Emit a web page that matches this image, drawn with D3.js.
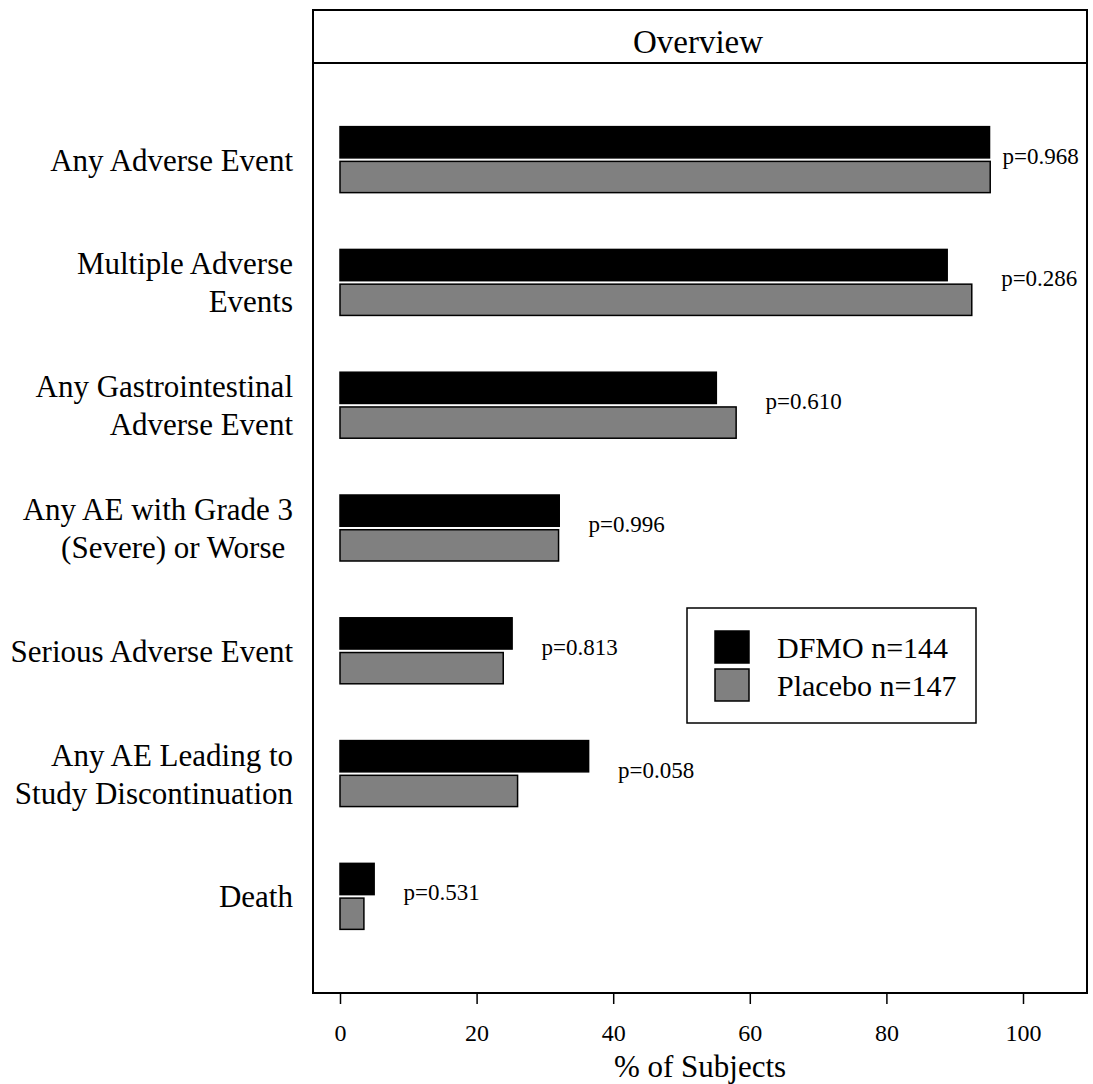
<!DOCTYPE html>
<html>
<head>
<meta charset="utf-8">
<script src="https://cdn.jsdelivr.net/npm/d3@7"></script>
<style>
  body { margin: 0; background: #fff; }
  svg text { font-family: "Liberation Serif", "Times New Roman", serif; fill: #000; }
</style>
</head>
<body>
<div id="chart"></div>
<script>
// Data
var categories = [
  "Any Adverse Event",
  "Multiple Adverse\nEvents",
  "Any Gastrointestinal\nAdverse Event",
  "Any AE with Grade 3\n(Severe) or Worse\u00a0",
  "Serious Adverse Event",
  "Any AE Leading to\nStudy Discontinuation",
  "Death"
];
var dfmoValues    = [95.1, 88.9, 55.1, 32.1, 25.2, 36.4, 5.0];
var placeboValues = [95.2, 92.5, 58.0, 32.0, 23.9, 26.0, 3.5];
var pLabels = ["p=0.968", "p=0.286", "p=0.610", "p=0.996", "p=0.813", "p=0.058", "p=0.531"];
var seriesNames = ["DFMO n=144", "Placebo n=147"];
var seriesColors = ["#000000", "#808080"];
var xTicks = [0, 20, 40, 60, 80, 100];
var panelTitle = "Overview";
var xTitle = "% of Subjects";

// Set width and height
var svgWidth = 1093;
var svgHeight = 1084;
var panel = { left: 313, right: 1087, top: 10, strip: 63, bottom: 993 };
var midX = (panel.left + panel.right) / 2;

var svg = d3.select("#chart").append("svg")
            .attr("width", svgWidth)
            .attr("height", svgHeight);

// Scales
var x = d3.scaleLinear().domain([0, 100]).range([340, 1023]);
var y = d3.scalePoint().domain(categories)
          .range([panel.strip, panel.bottom])
          .padding(0.787);
var ySeries = d3.scaleBand().domain(seriesNames)
                .range([-33, 33])
                .paddingInner(0.1);

var rows = categories.map(function(c, i) {
  return { cat: c, values: [dfmoValues[i], placeboValues[i]], p: pLabels[i] };
});

// Bars
var groups = svg.selectAll("g.row")
                .data(rows)
                .enter()
                .append("g")
                .attr("class", "row")
                .attr("transform", function(d) { return "translate(0," + y(d.cat) + ")"; });

groups.selectAll("rect")
      .data(function(d) {
        return d.values.map(function(v, j) {
          return { series: seriesNames[j], value: v, color: seriesColors[j] };
        });
      })
      .enter()
      .append("rect")
      .attr("x", x(0))
      .attr("y", function(d) { return ySeries(d.series); })
      .attr("width", function(d) { return x(d.value) - x(0); })
      .attr("height", ySeries.bandwidth())
      .attr("fill", function(d) { return d.color; })
      .attr("stroke", "#000")
      .attr("stroke-width", 1.5);

// p-value labels, to the right of the longest bar
groups.append("text")
      .text(function(d) { return d.p; })
      .attr("x", function(d) { return x(Math.min(d3.max(d.values) + 4.3, 97)); })
      .attr("y", 4)
      .attr("font-size", "23px");

// Category labels (multi-line)
var catLabels = groups.append("text")
                      .attr("text-anchor", "end")
                      .attr("font-size", "31px")
                      .style("white-space", "pre");
catLabels.each(function(d) {
  var lines = d.cat.split("\n");
  var t = d3.select(this);
  lines.forEach(function(line, k) {
    t.append("tspan")
     .attr("x", 293)
     .attr("y", 11 + (k - (lines.length - 1) / 2) * 38)
     .text(line);
  });
});

// Panel box and strip
svg.append("rect")
   .attr("x", panel.left).attr("y", panel.top)
   .attr("width", panel.right - panel.left)
   .attr("height", panel.bottom - panel.top)
   .attr("fill", "none")
   .attr("stroke", "#000")
   .attr("stroke-width", 2);
svg.append("line")
   .attr("x1", panel.left).attr("x2", panel.right)
   .attr("y1", panel.strip).attr("y2", panel.strip)
   .attr("stroke", "#000")
   .attr("stroke-width", 2);
svg.append("text")
   .text(panelTitle)
   .attr("x", midX - 2)
   .attr("y", 53)
   .attr("text-anchor", "middle")
   .attr("font-size", "33px");

// X axis
var xAxis = svg.append("g")
               .attr("transform", "translate(0," + panel.bottom + ")")
               .call(d3.axisBottom(x).tickValues(xTicks).tickSize(11).tickPadding(20));
xAxis.select(".domain").remove();
xAxis.selectAll(".tick line").attr("stroke", "#000").attr("stroke-width", 1.5);
xAxis.selectAll(".tick text")
     .attr("font-family", "'Liberation Serif', 'Times New Roman', serif")
     .attr("font-size", "24px")
     .attr("fill", "#000");

svg.append("text")
   .text(xTitle)
   .attr("x", midX)
   .attr("y", 1077)
   .attr("text-anchor", "middle")
   .attr("font-size", "31px");

// Legend
var legend = svg.append("g").attr("transform", "translate(687,608)");
legend.append("rect")
      .attr("width", 289).attr("height", 115)
      .attr("fill", "#fff")
      .attr("stroke", "#000")
      .attr("stroke-width", 1.5);
var items = legend.selectAll("g.item")
                  .data(seriesNames)
                  .enter()
                  .append("g")
                  .attr("class", "item")
                  .attr("transform", function(d, i) { return "translate(28," + (23 + i * 38) + ")"; });
items.append("rect")
     .attr("width", 34).attr("height", 32)
     .attr("fill", function(d, i) { return seriesColors[i]; })
     .attr("stroke", "#000")
     .attr("stroke-width", 1.5);
items.append("text")
     .text(function(d) { return d; })
     .attr("x", 62)
     .attr("y", 27)
     .attr("font-size", "30px");
</script>
</body>
</html>
